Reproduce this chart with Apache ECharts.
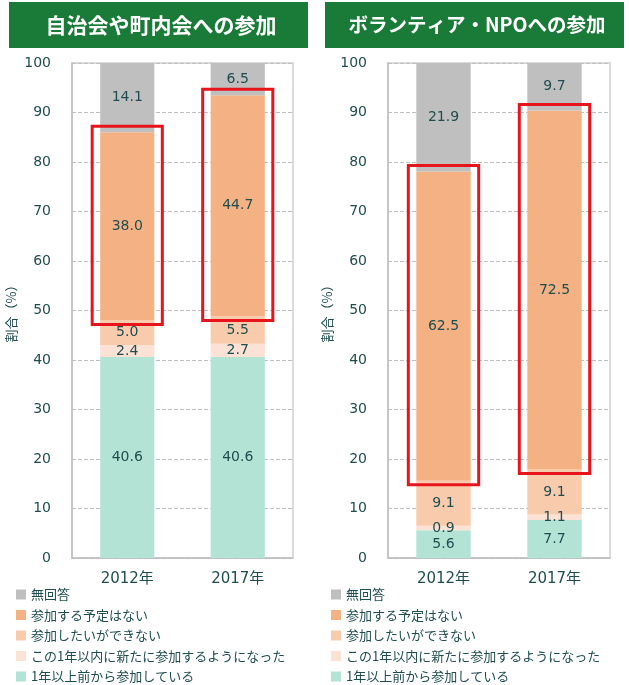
<!DOCTYPE html>
<html>
<head>
<meta charset="utf-8">
<script src="https://cdn.jsdelivr.net/npm/echarts@6/dist/echarts.min.js"></script>
<style>
  html, body { margin: 0; padding: 0; background: #fff; }
  #chart { width: 629px; height: 685px; }
</style>
</head>
<body>
<div id="chart"></div>
<script>
// データ
var years = ['2012年', '2017年'];
var seriesNames = ['1年以上前から参加している', 'この1年以内に新たに参加するようになった', '参加したいができない', '参加する予定はない', '無回答'];
var colors = ['#B3E3D5', '#FBE2D5', '#F8CBAD', '#F4B183', '#BFBFBF'];

// 自治会や町内会への参加
var jichikai = [
  [40.6, 40.6],
  [2.4, 2.7],
  [5.0, 5.5],
  [38.0, 44.7],
  [14.1, 6.5]
];
// ボランティア・NPOへの参加
var volunteer = [
  [5.6, 7.7],
  [0.9, 1.1],
  [9.1, 9.1],
  [62.5, 72.5],
  [21.9, 9.7]
];

var yTicks = { min: 0, max: 100, interval: 10 };
var textColor = '#1F4D4F';
var numFont = "'DejaVu Sans', 'Noto Sans CJK JP', sans-serif";
var jpFont = "'Noto Sans CJK JP', sans-serif";

// 赤枠（参加する予定はない）の範囲
function boxData(values) {
  return years.map(function (y, i) {
    var low = values[0][i] + values[1][i] + values[2][i];
    return [i, low, low + values[3][i]];
  });
}

function buildSeries(values, idx) {
  var list = seriesNames.map(function (name, s) {
    return {
      name: name,
      type: 'bar',
      stack: 'total' + idx,
      xAxisIndex: idx,
      yAxisIndex: idx,
      barWidth: '49%',
      itemStyle: { color: colors[s] },
      label: {
        show: true,
        position: 'inside',
        color: textColor,
        fontSize: 14,
        fontFamily: numFont,
        formatter: function (p) { return p.value.toFixed(1); }
      },
      data: values[s]
    };
  });
  list.push({
    type: 'custom',
    xAxisIndex: idx,
    yAxisIndex: idx,
    z: 10,
    silent: true,
    encode: { x: 0, y: [1, 2] },
    renderItem: function (params, api) {
      var top = api.coord([api.value(0), api.value(2)]);
      var bottom = api.coord([api.value(0), api.value(1)]);
      var half = api.size([1, 0])[0] * 0.49 / 2 + 8;
      return {
        type: 'rect',
        shape: { x: top[0] - half, y: top[1] - 6, width: half * 2, height: bottom[1] - top[1] + 10 },
        style: { fill: 'none', stroke: '#E8141B', lineWidth: 3 }
      };
    },
    data: boxData(values)
  });
  return list;
}

function xAxis(idx) {
  return {
    type: 'category',
    gridIndex: idx,
    data: years,
    axisLine: { lineStyle: { color: '#BFBFBF', width: 1.5 } },
    axisTick: { inside: true, length: 5, lineStyle: { color: '#BFBFBF' } },
    axisLabel: { color: textColor, fontSize: 15, fontFamily: numFont, margin: 14 }
  };
}

function yAxis(idx) {
  return {
    type: 'value',
    gridIndex: idx,
    min: yTicks.min,
    max: yTicks.max,
    interval: yTicks.interval,
    name: '割合（%）',
    nameLocation: 'middle',
    nameRotate: 90,
    nameGap: 54,
    nameTextStyle: { color: textColor, fontSize: 13, fontFamily: jpFont },
    axisLine: { show: true, lineStyle: { color: '#BFBFBF', width: 1.5 } },
    axisTick: { show: false },
    axisLabel: { color: textColor, fontSize: 14, fontFamily: numFont, margin: 21 },
    splitLine: { lineStyle: { color: '#BFBFBF', type: 'dashed' } }
  };
}

function legend(left) {
  return {
    orient: 'vertical',
    left: left,
    top: 588,
    padding: 0,
    itemWidth: 10,
    itemHeight: 10,
    itemGap: 7.5,
    icon: 'rect',
    selectedMode: false,
    textStyle: { color: textColor, fontSize: 13, fontFamily: jpFont },
    data: seriesNames.slice().reverse()
  };
}

function banner(left, text, size) {
  return {
    type: 'group',
    left: left,
    top: 2,
    children: [
      { type: 'rect', shape: { x: 0, y: 0, width: 299, height: 46 }, style: { fill: '#1A7A38' } },
      {
        type: 'text', x: 152, y: 23,
        style: {
          text: text, fill: '#fff', fontSize: size, fontWeight: 'bold', fontFamily: jpFont,
          align: 'center', verticalAlign: 'middle'
        }
      }
    ]
  };
}

var option = {
  animation: false,
  backgroundColor: '#fff',
  grid: [
    { left: 72, right: 336, top: 63, bottom: 127, show: true, borderColor: '#D0D0D0', borderWidth: 1.5 },
    { left: 388, right: 19, top: 63, bottom: 127, show: true, borderColor: '#D0D0D0', borderWidth: 1.5 }
  ],
  xAxis: [xAxis(0), xAxis(1)],
  yAxis: [yAxis(0), yAxis(1)],
  legend: [legend(16), legend(331)],
  graphic: [
    banner(9, '自治会や町内会への参加', 21),
    banner(325, 'ボランティア・NPOへの参加', 19.5)
  ],
  series: buildSeries(jichikai, 0).concat(buildSeries(volunteer, 1))
};

var myChart = echarts.init(document.getElementById('chart'));
myChart.setOption(option, true);
</script>
</body>
</html>
